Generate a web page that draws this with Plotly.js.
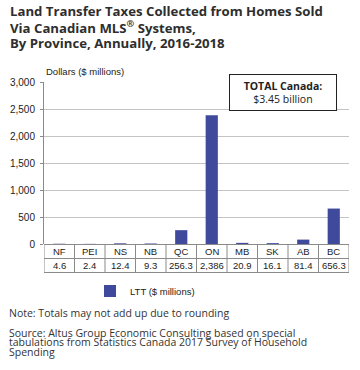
<!DOCTYPE html>
<html><head><meta charset="utf-8">
<script src="https://cdn.plot.ly/plotly-3.0.1.min.js"></script>
<style>html,body{margin:0;padding:0;background:#fff}#chart{width:360px;height:370px}</style>
</head><body><div id="chart"></div>
<script>
const provinces = ["NF","PEI","NS","NB","QC","ON","MB","SK","AB","BC"];
const lttValues = [4.6, 2.4, 12.4, 9.3, 256.3, 2386, 20.9, 16.1, 81.4, 656.3];
const lttLabels = ["4.6","2.4","12.4","9.3","256.3","2,386","20.9","16.1","81.4","656.3"];
const seriesName = "LTT ($ millions)";
const titleLines = ["Land Transfer Taxes Collected from Homes Sold","Via Canadian MLS<sup>®</sup> Systems,","By Province, Annually, 2016-2018"];
const sourceLines = ["Source: Altus Group Economic Consulting based on special","tabulations from Statistics Canada 2017 Survey of Household","Spending"];
const noteText = "Note: Totals may not add up due to rounding";

const H = 162, W = 305, L = 44;
const py = px => -px / H;
const pyTop = y => (244 - y) / H;
const pxX = x => (x - L) / W;
const tableFont = {family:"Liberation Sans, Arial, sans-serif", size:9.5, color:"#222"};
const textFont = "'Open Sans', Lato, sans-serif";
const border = "#8a8a8a";
const LEG_LEFT = 90, LEG_CY = 291;

const annotations = [];
const shapes = [];
provinces.forEach((p,i)=>{
  annotations.push({x:p, xref:"x", y:py(7.5), yref:"paper", text:p, showarrow:false, font:tableFont, xanchor:"center", yanchor:"middle"});
  annotations.push({x:p, xref:"x", y:py(21.5), yref:"paper", text:lttLabels[i], showarrow:false, font:tableFont, xanchor:"center", yanchor:"middle"});
});
for (let i=0;i<=provinces.length;i++){
  shapes.push({type:"line", xref:"x", yref:"paper", x0:i-0.5, x1:i-0.5, y0:py(0), y1:py(28.5), line:{color:border,width:1}});
}
[14.5, 28.5].forEach(d=>shapes.push({type:"line", xref:"x", yref:"paper", x0:-0.5, x1:provinces.length-0.5, y0:py(d), y1:py(d), line:{color:border,width:1}}));

titleLines.forEach((t,i)=>annotations.push({xref:"paper", yref:"paper", x:pxX(8), y:pyTop(11+i*16), xanchor:"left", yanchor:"middle", text:"<b>"+t+"</b>", showarrow:false, font:{family:textFont, size:13.2, color:"#2e2e2e"}}));
annotations.push({xref:"paper", yref:"paper", x:0, y:pyTop(72), xanchor:"left", yanchor:"middle", text:"Dollars ($ millions)", showarrow:false, font:{family:"Liberation Sans, Arial, sans-serif", size:9.5, color:"#222"}});
annotations.push({xref:"paper", yref:"paper", x:pxX(283), y:pyTop(92.5), xanchor:"center", yanchor:"middle",
  text:"<b>TOTAL Canada:</b><br>$3.45 billion", showarrow:false, align:"center",
  font:{family:textFont, size:10.5, color:"#222"}, bgcolor:"#fff", bordercolor:"#222", borderwidth:1, width:104, height:33, borderpad:1});
annotations.push({xref:"paper", yref:"paper", x:pxX(7), y:pyTop(313), xanchor:"left", yanchor:"middle", text:noteText, showarrow:false, font:{family:textFont, size:10.5, color:"#333"}});
sourceLines.forEach((t,i)=>annotations.push({xref:"paper", yref:"paper", x:pxX(7), y:pyTop(333+i*9.3), xanchor:"left", yanchor:"middle", text:t, showarrow:false, font:{family:textFont, size:10.5, color:"#333"}}));

const data = [{type:"bar", x:provinces, y:lttValues, name:seriesName, marker:{color:"#3f4a9c"}, showlegend:true}];
const layout = {
  width:360, height:370, margin:{l:44, r:11, t:82, b:126, autoexpand:false},
  paper_bgcolor:"#fff", plot_bgcolor:"#fff",
  bargap:0.6,
  xaxis:{type:"category", showticklabels:false, showline:false, ticks:"", showgrid:false, zeroline:false, range:[-0.5, provinces.length-0.5]},
  yaxis:{range:[0,3000], dtick:500, tickformat:",", showgrid:true, gridcolor:"#c4c4c4", gridwidth:1, zeroline:true, zerolinecolor:border, zerolinewidth:1,
    showline:true, linecolor:border, linewidth:1, ticks:"outside", ticklen:3, tickcolor:border, ticklabelstandoff:3,
    tickfont:{family:"Liberation Sans, Arial, sans-serif", size:10, color:"#222"}},
  legend:{orientation:"h", x:pxX(LEG_LEFT), xanchor:"left", y:pyTop(LEG_CY), yanchor:"middle",
    font:{family:"Liberation Sans, Arial, sans-serif", size:9.5, color:"#222"}, borderwidth:0},
  annotations, shapes
};
const gd = document.getElementById("chart");
function fixLegend(n){
  if (n <= 0) return;
  const bg = gd.querySelector(".legend rect.bg");
  if (!bg) return;
  const r = bg.getBoundingClientRect(), g = gd.getBoundingClientRect();
  const dx = LEG_LEFT - (r.left - g.left);
  const dy = LEG_CY - (r.top + r.height/2 - g.top);
  if (Math.abs(dx) < 1 && Math.abs(dy) < 1) return;
  const lg = gd.layout.legend;
  return Plotly.relayout(gd, {"legend.x": lg.x + dx / W, "legend.y": lg.y - dy / H}).then(()=>fixLegend(n-1));
}
Plotly.newPlot(gd, data, layout, {displayModeBar:false, staticPlot:true}).then(()=>fixLegend(4));
</script></body></html>
